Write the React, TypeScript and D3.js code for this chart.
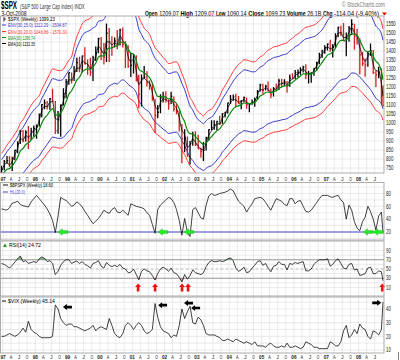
import React from "react";
import * as d3 from "d3";

// monthly samples: Dec 1996 .. 3 Oct 2008 (143 points)
// Jun-Nov 1996 closes, only used to start the moving averages
const warmupClose = [670.63, 639.95, 651.99, 687.33, 705.27, 757.02];

const spxHigh = [
  762,
  794, 817, 815, 812, 851, 898, 961, 961, 960, 983, 974, 986,
  992, 1051, 1105, 1130, 1122, 1139, 1190, 1122, 1066, 1103, 1193, 1245,
  1280, 1280, 1316, 1362, 1368, 1373, 1421, 1353, 1362, 1374, 1425, 1474,
  1478, 1444, 1553, 1528, 1482, 1475, 1517, 1523, 1530, 1454, 1432, 1390,
  1384, 1376, 1268, 1270, 1316, 1287, 1236, 1219, 1135, 1100, 1160, 1173,
  1177, 1131, 1173, 1147, 1107, 1070, 994, 965, 925, 900, 951, 954,
  935, 864, 895, 924, 965, 1015, 1015, 1012, 1040, 1054, 1063, 1112,
  1155, 1159, 1163, 1150, 1128, 1147, 1141, 1110, 1131, 1142, 1183, 1218,
  1218, 1213, 1230, 1192, 1200, 1219, 1246, 1246, 1243, 1233, 1270, 1276,
  1295, 1297, 1310, 1318, 1327, 1290, 1280, 1306, 1340, 1390, 1407, 1432,
  1441, 1462, 1439, 1499, 1535, 1540, 1556, 1503, 1539, 1576, 1552, 1523,
  1471, 1396, 1359, 1396, 1441, 1405, 1292, 1313, 1303, 1209,
];

const spxLow = [
  723,
  737, 773, 756, 733, 793, 832, 883, 893, 897, 855, 905, 924,
  912, 980, 1032, 1076, 1075, 1074, 1114, 939, 940, 923, 1097, 1137,
  1212, 1219, 1234, 1283, 1282, 1281, 1325, 1268, 1261, 1233, 1345, 1387,
  1350, 1325, 1339, 1339, 1374, 1420, 1410, 1431, 1420, 1305, 1307, 1255,
  1275, 1230, 1081, 1092, 1245, 1203, 1185, 1124, 945, 1026, 1054, 1114,
  1114, 1074, 1106, 1064, 1048, 953, 776, 838, 815, 769, 873, 872,
  855, 807, 789, 847, 902, 961, 962, 960, 990, 996, 1031, 1053,
  1106, 1124, 1087, 1107, 1077, 1114, 1079, 1060, 1101, 1090, 1128, 1173,
  1163, 1180, 1176, 1137, 1147, 1188, 1184, 1202, 1205, 1168, 1202, 1246,
  1245, 1253, 1268, 1280, 1245, 1219, 1224, 1262, 1291, 1327, 1361, 1385,
  1403, 1396, 1364, 1416, 1476, 1484, 1455, 1371, 1451, 1489, 1407, 1435,
  1270, 1316, 1257, 1313, 1373, 1272, 1200, 1248, 1107, 1090,
];

const spxClose = [
  740.74,
  786.16, 790.82, 757.12, 801.34, 848.28, 885.14, 954.29, 899.47, 947.28, 914.62, 955.4, 970.43,
  980.28, 1049.34, 1101.75, 1111.75, 1090.82, 1133.84, 1120.67, 957.28, 1017.01, 1098.67, 1163.63, 1229.23,
  1279.64, 1238.33, 1286.37, 1335.18, 1301.84, 1372.71, 1328.72, 1320.41, 1282.71, 1362.93, 1388.91, 1469.25,
  1394.46, 1366.42, 1498.58, 1452.43, 1420.6, 1454.6, 1430.83, 1517.68, 1436.51, 1429.4, 1314.95, 1320.28,
  1366.01, 1239.94, 1160.33, 1249.46, 1255.82, 1224.42, 1211.23, 1133.58, 1040.94, 1059.78, 1139.45, 1148.08,
  1130.2, 1106.73, 1147.39, 1076.92, 1067.14, 989.82, 911.62, 916.07, 815.28, 885.76, 936.31, 879.82,
  855.7, 841.15, 848.18, 916.92, 963.59, 974.5, 990.31, 1008.01, 995.97, 1050.71, 1058.2, 1111.92,
  1131.13, 1144.94, 1126.21, 1107.3, 1120.68, 1140.84, 1101.72, 1104.24, 1114.58, 1130.2, 1173.82, 1211.92,
  1181.27, 1203.6, 1180.59, 1156.85, 1191.5, 1191.33, 1234.18, 1220.33, 1228.81, 1207.01, 1249.48, 1248.29,
  1280.08, 1280.66, 1294.83, 1310.61, 1270.09, 1270.2, 1276.66, 1303.82, 1335.85, 1377.94, 1400.63, 1418.3,
  1438.24, 1406.82, 1420.86, 1482.37, 1530.62, 1503.35, 1455.27, 1473.99, 1526.75, 1549.38, 1481.14, 1468.36,
  1378.55, 1330.63, 1322.7, 1385.59, 1400.38, 1280.0, 1267.38, 1282.83, 1166.36, 1099.23,
];

const bpspx = [
  56,
  55, 54, 58, 65, 66, 68, 63, 61, 60, 59, 67, 72,
  77, 72, 67, 62, 56, 48, 38, 19, 45, 74, 71, 69,
  65, 60, 62, 67, 64, 59, 52, 46, 39, 33, 37, 41,
  47, 54, 51, 49, 55, 58, 51, 50, 54, 50, 46, 64,
  62, 60, 59, 58, 56, 50, 46, 32, 18, 55, 62, 66,
  70, 74, 72, 66, 55, 38, 15, 41, 20, 13, 55, 58,
  50, 42, 40, 62, 76, 80, 77, 78, 80, 81, 82, 84,
  87, 84, 76, 68, 64, 60, 51, 58, 64, 72, 73, 74,
  72, 66, 60, 54, 63, 72, 70, 68, 63, 61, 72, 72,
  64, 68, 69, 60, 52, 51, 54, 60, 66, 72, 77, 77,
  77, 75, 74, 76, 77, 70, 66, 40, 62, 54, 36, 26,
  22, 36, 43, 60, 52, 40, 23, 45, 51, 18.6,
];

const rsi14 = [
  62,
  60, 56, 52, 58, 65, 72, 78, 66, 68, 62, 64, 66,
  64, 72, 76, 73, 66, 68, 62, 38, 45, 58, 66, 70,
  70, 62, 65, 67, 62, 66, 60, 57, 52, 62, 64, 68,
  56, 52, 64, 58, 55, 58, 55, 60, 52, 50, 42, 43,
  50, 38, 27, 45, 50, 46, 44, 36, 26, 40, 50, 54,
  50, 45, 52, 42, 40, 32, 22, 38, 28, 36, 48, 42,
  40, 38, 42, 55, 64, 68, 66, 66, 68, 66, 68, 72,
  74, 68, 52, 45, 48, 54, 42, 44, 52, 58, 66, 68,
  58, 62, 52, 44, 56, 58, 66, 60, 60, 48, 62, 60,
  64, 62, 64, 66, 46, 46, 50, 60, 66, 70, 70, 70,
  72, 56, 60, 68, 72, 62, 52, 50, 60, 62, 48, 50,
  36, 38, 40, 52, 54, 40, 40, 46, 44, 24.72,
];

const vix = [
  20,
  20, 21, 22, 21, 20, 21, 23, 26, 23, 31, 25, 23,
  22, 20, 19, 19, 19, 19, 20, 43, 40, 33, 30, 28,
  29, 29, 27, 27, 26, 25, 24, 25, 26, 28, 24, 26,
  27, 26, 25, 33, 28, 22, 20, 19, 22, 28, 30, 28,
  25, 28, 30, 28, 24, 22, 23, 25, 44, 34, 27, 24,
  23, 22, 19, 21, 20, 28, 40, 33, 38, 42, 30, 29,
  34, 32, 28, 22, 21, 21, 21, 20, 19, 17, 17, 18,
  17, 16, 18, 17, 16, 15, 16, 15, 14, 16, 13, 13,
  13, 12, 14, 15, 13, 12, 12, 13, 12, 15, 12, 12,
  13, 12, 11, 12, 16, 15, 14, 12, 12, 11, 11, 11,
  11, 16, 15, 13, 13, 16, 24, 28, 19, 21, 25, 22,
  29, 26, 25, 20, 18, 24, 23, 21, 25, 45.14,
];

const priceTicks = [750, 800, 850, 900, 950, 1000, 1050, 1100, 1150, 1200, 1250, 1300, 1350, 1400, 1450, 1500, 1550];
const bpTicks = [20, 40, 60, 80];
const rsiTicks = [10, 30, 50, 70, 90];
const vixTicks = [10, 20, 30, 40];
const quarterNames = ["", "A", "J", "O"];

// quote line in the header: [text, bold]
const quoteParts: [string, boolean][] = [
  ["Open", true], ["1209.07", false], ["High", true], ["1209.07", false],
  ["Low", true], ["1090.14", false], ["Close", true], ["1099.23", false],
  ["Volume", true], ["26.1B", false], ["Chg", true], ["-114.04 (-9.40%)", false],
];

// signal arrows
const bpSignalDates = ["1998-09-13", "2001-10-19", "2002-08-08", "2008-02-23", "2008-06-16"];
const rsiSignalDates = ["2001-03-07", "2001-09-15", "2002-07-17", "2002-09-23", "2008-09-25"];
const vixSignalDates = ["1998-11-09", "2001-10-19", "2002-08-08", "2002-10-27", "2008-09-13"];
const vixSignalLevels = [41.4, 42.8, 44.3, 40.7, 44.5];
const vixSignalRight = [false, false, false, false, true];

const FONT = "'Liberation Sans', Arial, sans-serif";
const parse = d3.timeParse("%Y-%m-%d");

const months = d3.timeMonth.range(new Date(1996, 11, 1), new Date(2008, 10, 1));
const dates = months.map((m, i) =>
  i === months.length - 1 ? new Date(2008, 9, 3) : new Date(m.getFullYear(), m.getMonth(), 15)
);
const quarters = d3.timeMonth.every(3)!.range(new Date(1997, 0, 1), new Date(2008, 9, 1));

// moving averages / envelopes from the closes
const allClose = [...warmupClose, ...spxClose];
const sma30 = spxClose.map((_, i) => d3.mean(allClose.slice(i, i + 7)) as number);
function ema(alpha: number) {
  let e = allClose[0];
  const out: number[] = [];
  allClose.forEach((c, j) => {
    e = j === 0 ? c : e + alpha * (c - e);
    if (j >= warmupClose.length) out.push(e);
  });
  return out;
}
const ema30 = ema(0.25);
const ema10 = ema(0.58);

const L = 0.5, R = 384;
const pMain = { top: 16, bottom: 173 };
const pBp = { top: 182.5, bottom: 240 };
const pRsi = { top: 241, bottom: 296 };
const pVix = { top: 297, bottom: 353 };

const x = d3.scaleTime().domain([new Date(1997, 0, 1), new Date(2008, 9, 3)]).range([3, 383]);
const yP = d3.scaleLinear().domain([750, 1550]).range([168, 24]);
const yB = d3.scaleLinear().domain([20, 80]).range([232, 193.5]);
const yR = d3.scaleLinear().domain([10, 90]).range([287.5, 250.5]);
const yV = d3.scaleLinear().domain([10, 40]).range([350, 309]);

const mkLine = (y: d3.ScaleLinear<number, number>, curve = d3.curveLinear) =>
  d3.line<number>().x((_, i) => x(dates[i])).y((v) => y(v)).curve(curve);

const leftArrow = "M0,0 L4,-3 L4,-1.3 L9,-1.3 L9,1.3 L4,1.3 L4,3 Z";
const rightArrow = "M0,0 L-4,-3 L-4,-1.3 L-9,-1.3 L-9,1.3 L-4,1.3 L-4,3 Z";
const upArrow = "M0,0 L3,3.5 L1.3,3.5 L1.3,8 L-1.3,8 L-1.3,3.5 L-3,3.5 Z";

// the reference text is squeezed sideways; measure the natural width and scale x to fit
let measureCtx: CanvasRenderingContext2D | null = null;
function textWidth(s: string, size: number, bold: boolean) {
  if (!measureCtx) measureCtx = document.createElement("canvas").getContext("2d");
  if (!measureCtx) return s.length * size * 0.55;
  measureCtx.font = `${bold ? "bold " : ""}${size}px 'Liberation Sans', Arial, sans-serif`;
  return measureCtx.measureText(s).width;
}

function Label(props: { x: number; y: number; w: number; size?: number; bold?: boolean; fill?: string; children: string }) {
  const size = props.size ?? 6;
  const sx = props.w / textWidth(props.children, size, !!props.bold);
  return (
    <text transform={`translate(${props.x},${props.y}) scale(${sx},1)`} fontSize={size}
      fontWeight={props.bold ? "bold" : "normal"} fill={props.fill ?? "#000"}>
      {props.children}
    </text>
  );
}

function AxisNum({ v, y }: { v: number; y: number }) {
  const s = String(v);
  return <Label x={386} y={y + 2.2} w={s.length * 2.45} size={6.5} fill="#222">{s}</Label>;
}

function Panel({ p, id }: { p: { top: number; bottom: number }; id: string }) {
  return (
    <g>
      <clipPath id={id}><rect x={L} y={p.top} width={R - L} height={p.bottom - p.top} /></clipPath>
      {quarters.map((q, i) => (
        <line key={i} x1={x(q)} x2={x(q)} y1={p.top} y2={p.bottom} stroke="#dcdcdc" strokeWidth={0.6} />
      ))}
    </g>
  );
}

function DateRow({ y }: { y: number }) {
  return (
    <g>
      {quarters.map((q, i) => {
        const m = q.getMonth() / 3;
        const s = m === 0 ? d3.timeFormat("%y")(q) : quarterNames[m];
        const w = s.length * 2.6;
        return <Label key={i} x={x(q) - w / 2} y={y} w={w} size={6} bold={m === 0} fill="#222">{s}</Label>;
      })}
    </g>
  );
}

function QuoteLine() {
  // lay the quote pieces out one after another between x0 and x1
  const x0 = 145, x1 = 379, gap = 1.6;
  const units = quoteParts.map(([s, b]) => s.length * (b ? 1.12 : 1));
  const k = (x1 - x0 - gap * (quoteParts.length - 1)) / d3.sum(units);
  let cx = x0;
  return (
    <g>
      {quoteParts.map(([s, b], i) => {
        const w = units[i] * k;
        const el = <Label key={i} x={cx} y={15.5} w={w} size={6.5} bold={b}>{s}</Label>;
        cx += w + gap;
        return el;
      })}
    </g>
  );
}

function hGrid(p: { top: number; bottom: number }, y: d3.ScaleLinear<number, number>, vals: number[]) {
  return vals.map((v) => {
    const yy = y(v);
    if (yy < p.top || yy > p.bottom) return null;
    return <line key={v} x1={L} x2={R} y1={yy} y2={yy} stroke="#dcdcdc" strokeWidth={0.6} />;
  });
}

export default function App() {
  const priceLine = mkLine(yP, d3.curveMonotoneX);
  const rsiLine = mkLine(yR);
  const overArea = d3.area<number>().x((_, i) => x(dates[i])).y0(yR(70)).y1((v) => yR(Math.max(v, 70)));
  const underArea = d3.area<number>().x((_, i) => x(dates[i])).y0(yR(30)).y1((v) => yR(Math.min(v, 30)));

  return (
    <svg width={400} height={360} style={{ position: "absolute", left: 0, top: 0, background: "#fff" }} fontFamily={FONT}>
      <rect width={400} height={360} fill="#fff" />

      {/* header */}
      <Label x={1} y={9} w={16} size={10} bold>$SPX</Label>
      <Label x={20} y={8.5} w={65} size={6.5} fill="#333">(S&amp;P 500 Large Cap Index) INDX</Label>
      <Label x={342} y={7} w={43} size={6.5} fill="#777">© StockCharts.com</Label>
      <Label x={1.5} y={15.5} w={25} size={6.5}>3-Oct-2008</Label>
      <QuoteLine />
      <path d="M382,12.5 L387,12.5 L384.5,15.5 Z" fill="#d00" />

      {/* ---------- main price panel ---------- */}
      <Panel p={pMain} id="clipMain" />
      {hGrid(pMain, yP, priceTicks)}
      <g clipPath="url(#clipMain)" fill="none">
        <path d={priceLine(sma30.map((v) => v * 1.2)) ?? ""} stroke="#ff3a3a" strokeWidth={1} />
        <path d={priceLine(sma30.map((v) => v * 0.8)) ?? ""} stroke="#ff3a3a" strokeWidth={1} />
        <path d={priceLine(sma30.map((v) => v * 1.15)) ?? ""} stroke="#3838c8" strokeWidth={1} />
        <path d={priceLine(sma30.map((v) => v * 0.85)) ?? ""} stroke="#3838c8" strokeWidth={1} />
        {spxClose.map((c, i) => {
          const xx = x(dates[i]);
          const up = i === 0 || c >= spxClose[i - 1];
          return (
            <g key={i} stroke={up ? "#000" : "#d42020"} strokeWidth={1.3}>
              <line x1={xx} x2={xx} y1={yP(spxHigh[i])} y2={yP(spxLow[i])} />
              <line x1={xx} x2={xx + 1.2} y1={yP(c)} y2={yP(c)} />
            </g>
          );
        })}
        <path d={priceLine(ema10) ?? ""} stroke="#000" strokeWidth={0.8} />
        <path d={priceLine(ema30) ?? ""} stroke="#0a8a0a" strokeWidth={1.2} />
      </g>
      <rect x={L} y={pMain.top} width={R - L} height={pMain.bottom - pMain.top} fill="none" stroke="#999" strokeWidth={0.8} />
      {priceTicks.map((v) => <AxisNum key={v} v={v} y={yP(v)} />)}

      {/* legend */}
      <line x1={4} x2={4} y1={17} y2={21.5} stroke="#000" strokeWidth={0.8} />
      <line x1={4} x2={6} y1={19} y2={19} stroke="#000" strokeWidth={0.8} />
      <Label x={8} y={21} w={47}>$SPX (Weekly) 1099.23</Label>
      <line x1={2} x2={6} y1={25} y2={25} stroke="#3838c8" strokeWidth={1} />
      <Label x={8} y={27} w={59} fill="#3838c8">ENV(30,15.0) 1112.29 - 1504.87</Label>
      <line x1={2} x2={6} y1={31.5} y2={31.5} stroke="#ff3a3a" strokeWidth={1} />
      <Label x={8} y={33.5} w={59} fill="#ff3a3a">ENV(30,20.0) 1046.86 - 1570.30</Label>
      <line x1={2} x2={6} y1={37.5} y2={37.5} stroke="#0a8a0a" strokeWidth={1} />
      <Label x={8} y={39.5} w={27} fill="#0a8a0a">EMA(30) 1296.74</Label>
      <line x1={2} x2={6} y1={43.5} y2={43.5} stroke="#000" strokeWidth={1} />
      <Label x={8} y={45.5} w={27}>EMA(10) 1232.35</Label>

      <DateRow y={180.5} />

      {/* ---------- bullish percent panel ---------- */}
      <Panel p={pBp} id="clipBp" />
      {hGrid(pBp, yB, [10, 20, 30, 40, 50, 60, 70, 80, 90])}
      <g clipPath="url(#clipBp)">
        <line x1={L} x2={R} y1={yB(20)} y2={yB(20)} stroke="#4a4ad0" strokeWidth={1} />
        <path d={mkLine(yB)(bpspx) ?? ""} fill="none" stroke="#111" strokeWidth={0.8} />
      </g>
      {bpSignalDates.map((d, i) => (
        <path key={i} d={leftArrow} transform={`translate(${x(parse(d)!)},${yB(20)}) scale(1.1)`}
          fill="#22ee22" stroke="#119911" strokeWidth={0.3} />
      ))}
      <rect x={L} y={pBp.top} width={R - L} height={pBp.bottom - pBp.top} fill="none" stroke="#999" strokeWidth={0.8} />
      {bpTicks.map((v) => <AxisNum key={v} v={v} y={yB(v)} />)}
      <line x1={3} x2={8} y1={185} y2={185} stroke="#111" strokeWidth={1} />
      <Label x={10} y={187} w={43}>$BPSPX (Weekly) 18.60</Label>
      <line x1={3} x2={8} y1={192} y2={192} stroke="#4a4ad0" strokeWidth={1} />
      <Label x={10} y={194} w={15} fill="#4a4ad0">HL(20.0)</Label>

      {/* ---------- RSI panel ---------- */}
      <Panel p={pRsi} id="clipRsi" />
      {hGrid(pRsi, yR, [10, 20, 40, 60, 80, 90])}
      <g clipPath="url(#clipRsi)">
        <path d={overArea(rsi14) ?? ""} fill="#7fbf7f" />
        <path d={underArea(rsi14) ?? ""} fill="#f2a0a0" />
        <line x1={L} x2={R} y1={yR(70)} y2={yR(70)} stroke="#888" strokeWidth={0.9} />
        <line x1={L} x2={R} y1={yR(30)} y2={yR(30)} stroke="#888" strokeWidth={0.9} />
        <line x1={L} x2={R} y1={yR(50)} y2={yR(50)} stroke="#999" strokeWidth={0.7} strokeDasharray="3,2" />
        <path d={rsiLine(rsi14) ?? ""} fill="none" stroke="#111" strokeWidth={0.8} />
      </g>
      {rsiSignalDates.map((d, i) => (
        <path key={i} d={upArrow} transform={`translate(${x(parse(d)!)},${yR(18.5)})`} fill="#ee1111" />
      ))}
      <rect x={L} y={pRsi.top} width={R - L} height={pRsi.bottom - pRsi.top} fill="none" stroke="#999" strokeWidth={0.8} />
      {rsiTicks.map((v) => <AxisNum key={v} v={v} y={yR(v)} />)}
      <path d="M3,247 L5,243.5 L7,247 Z" fill="#2a9a2a" />
      <Label x={9} y={247} w={32}>RSI(14) 24.72</Label>

      {/* ---------- VIX panel ---------- */}
      <Panel p={pVix} id="clipVix" />
      {hGrid(pVix, yV, [10, 15, 20, 25, 30, 35, 40, 45])}
      <g clipPath="url(#clipVix)">
        <path d={mkLine(yV)(vix) ?? ""} fill="none" stroke="#111" strokeWidth={0.8} />
      </g>
      {vixSignalDates.map((d, i) => (
        <path key={i} d={vixSignalRight[i] ? rightArrow : leftArrow}
          transform={`translate(${x(parse(d)!)},${yV(vixSignalLevels[i])})`} fill="#000" />
      ))}
      <rect x={L} y={pVix.top} width={R - L} height={pVix.bottom - pVix.top} fill="none" stroke="#999" strokeWidth={0.8} />
      {vixTicks.map((v) => <AxisNum key={v} v={v} y={yV(v)} />)}
      <line x1={2} x2={6} y1={301} y2={301} stroke="#111" strokeWidth={1} />
      <Label x={8} y={303} w={47}>$VIX (Weekly) 45.14</Label>

      <DateRow y={358.5} />
      <line x1={398.5} x2={398.5} y1={352} y2={360} stroke="#666" strokeWidth={0.8} />
    </svg>
  );
}
